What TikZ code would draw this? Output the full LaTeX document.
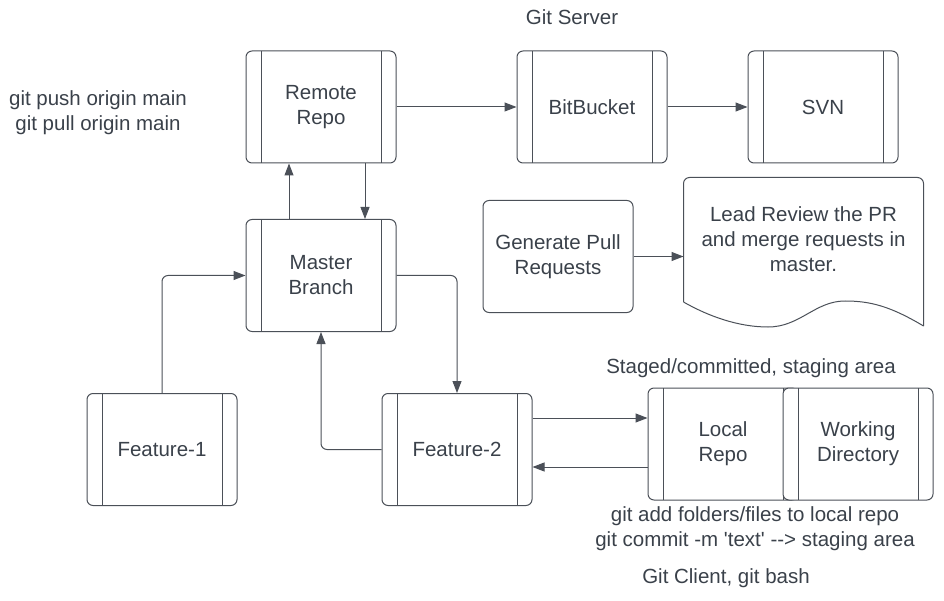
\documentclass[tikz,border=0pt]{standalone}
\usepackage{fontspec}
\setmainfont{Liberation Sans}[Ligatures=TeXOff]
\usetikzlibrary{arrows.meta}
\definecolor{ink}{HTML}{3A414A}
\definecolor{edge}{HTML}{4B5058}
\begin{document}
\begin{tikzpicture}[x=1pt, y=-1pt, line join=round, >={Triangle[length=12pt,width=9pt]},
    font=\fontsize{20.5}{25}\selectfont, text=ink, line width=1pt,
    every path/.style={draw=edge},
    proc/.style={draw=edge, rounded corners=6pt, minimum width=150pt, minimum height=112pt, align=center, inner sep=0pt,
        path picture={\draw[edge] ([xshift=15pt]path picture bounding box.north west) -- ([xshift=15pt]path picture bounding box.south west)
            ([xshift=-15pt]path picture bounding box.north east) -- ([xshift=-15pt]path picture bounding box.south east);}},
    plain/.style={draw=edge, rounded corners=6pt, minimum width=150pt, minimum height=112pt, align=center, inner sep=0pt},
    note/.style={align=center, inner sep=0pt},
    link/.style={->, rounded corners=6pt}]
    \useasboundingbox[draw=none] (0,0) rectangle (944,601);
    % boxes
    \node[proc] (remote) at (321,107) {Remote\\Repo};
    \node[proc] (bitbucket) at (592,107) {BitBucket};
    \node[proc] (svn) at (823,107) {SVN};
    \node[proc] (master) at (321,275.5) {Master\\Branch};
    \node[proc] (feat1) at (162,449.5) {Feature-1};
    \node[proc] (feat2) at (457,449.5) {Feature-2};
    \node[proc] (local) at (723,444) {Local\\Repo};
    \node[proc, fill=white] (workdir) at (858,444) {Working\\Directory};
    \node[plain] (genpr) at (558,256.5) {Generate Pull\\Requests};
    % document shape
    \node[minimum width=239pt, minimum height=148pt, inner sep=0pt] (lead) at (803.5,252) {};
    \node[note] (leadtxt) at (803.5,239) {Lead Review the PR\\and merge requests in\\master.};
    \draw[rounded corners=6pt] (lead.west |- 0,302) -- (lead.north west) -- (lead.north east) -- (lead.east |- 0,326);
    \draw (lead.east |- 0,326) .. controls (890,306) and (870,301) .. (845,301)
        .. controls (815,301) and (800,327) .. (768,327) .. controls (738,327) and (708,316) .. (lead.west |- 0,302);
    % labels
    \node[note] (server) at (572,17) {Git Server};
    \node[note] (pushpull) at (98,112.5) {git push origin main\\git pull origin main};
    \node[note] (staged) at (751,368) {Staged/committed, staging area};
    \node[note] (addcommit) at (755,528.5) {git add folders/files to local repo\\git commit -m 'text' --> staging area};
    \node[note] (client) at (726,578) {Git Client, git bash};
    % connectors
    \draw[link] (remote) -- (bitbucket);
    \draw[link] (bitbucket) -- (svn);
    \draw[link] ([xshift=-32pt]master.north) -- ([xshift=-32pt]remote.south);
    \draw[link] ([xshift=44pt]remote.south) -- ([xshift=44pt]master.north);
    \draw[link] (feat1.north) |- (master.west);
    \draw[link] (master.east) -| (feat2.north);
    \draw[link] (feat2.west) -| (master.south);
    \draw[link] ([yshift=31.5pt]feat2.east) -- ([yshift=31.5pt]feat2.east -| local.west);
    \draw[link] ([yshift=-17.5pt]feat2.east -| local.west) -- ([yshift=-17.5pt]feat2.east);
    \draw[link] (genpr.east) -- (genpr.east -| lead.west);
\end{tikzpicture}
\end{document}
